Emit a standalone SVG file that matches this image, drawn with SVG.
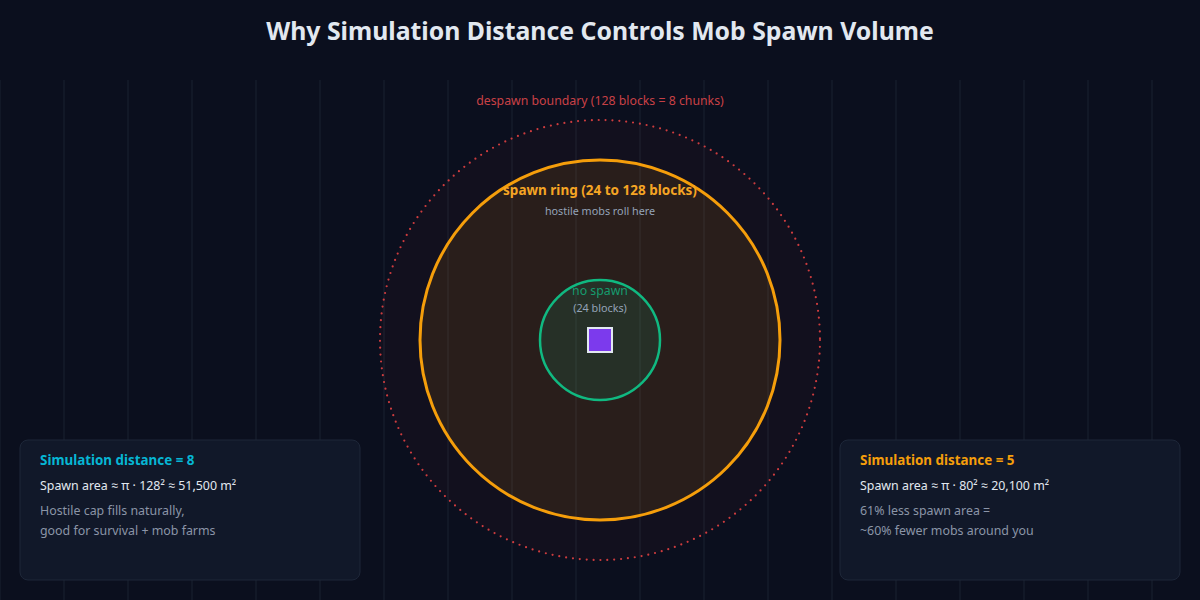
<svg xmlns="http://www.w3.org/2000/svg" width="1200" height="600" viewBox="0 0 1200 600">
<style>
text{font-family:"Noto Sans","Open Sans","Liberation Sans",sans-serif}
.grid line{stroke:#161c2b;stroke-width:1.5}
.title{font-size:24.8px;font-weight:700;fill:#e2e8f0}
.ph{font-size:13.4px;font-weight:700}
.pm{font-size:12.4px;fill:#e2e8f0}
.ps{font-size:12.4px;fill:#8b95a7}
.panel{fill:#111829;stroke:#1e2739;stroke-width:1}
</style>
<rect width="1200" height="600" fill="#0b0f1e"/>
<g class="grid">
<line x1="0" y1="80" x2="0" y2="600"/><line x1="64" y1="80" x2="64" y2="600"/><line x1="128" y1="80" x2="128" y2="600"/><line x1="192" y1="80" x2="192" y2="600"/><line x1="256" y1="80" x2="256" y2="600"/><line x1="320" y1="80" x2="320" y2="600"/><line x1="384" y1="80" x2="384" y2="600"/><line x1="448" y1="80" x2="448" y2="600"/><line x1="512" y1="80" x2="512" y2="600"/><line x1="576" y1="80" x2="576" y2="600"/><line x1="640" y1="80" x2="640" y2="600"/><line x1="704" y1="80" x2="704" y2="600"/><line x1="768" y1="80" x2="768" y2="600"/><line x1="832" y1="80" x2="832" y2="600"/><line x1="896" y1="80" x2="896" y2="600"/><line x1="960" y1="80" x2="960" y2="600"/><line x1="1024" y1="80" x2="1024" y2="600"/><line x1="1088" y1="80" x2="1088" y2="600"/><line x1="1152" y1="80" x2="1152" y2="600"/>
</g>
<text class="title" x="600" y="40" text-anchor="middle">Why Simulation Distance Controls Mob Spawn Volume</text>
<g id="despawn">
<circle cx="600" cy="340" r="220" fill="#ef4444" fill-opacity="0.035" stroke="#ef4444" stroke-width="2.2" stroke-dasharray="0 6.9" stroke-linecap="round" stroke-opacity="0.85"/>
<text x="600" y="105" text-anchor="middle" font-size="12.3" fill="#e0484c" fill-opacity="0.9">despawn boundary (128 blocks = 8 chunks)</text>
</g>
<g id="spawn-ring">
<circle cx="600" cy="340" r="180" fill="#f59e0b" fill-opacity="0.1" stroke="#f59e0b" stroke-width="3"/>
<text x="600" y="195" text-anchor="middle" font-size="13.5" font-weight="700" fill="#f5a524">spawn ring (24 to 128 blocks)</text>
<text x="600" y="215" text-anchor="middle" font-size="10.8" fill="#94a3b8">hostile mobs roll here</text>
</g>
<g id="no-spawn">
<circle cx="600" cy="340" r="60" fill="#10b981" fill-opacity="0.12" stroke="#10b981" stroke-width="2.5"/>
<text x="600" y="295" text-anchor="middle" font-size="12.3" fill="#10b981" fill-opacity="0.8">no spawn</text>
<text x="600" y="312" text-anchor="middle" font-size="10.8" fill="#94a3b8">(24 blocks)</text>
</g>
<g id="player">
<rect x="588" y="328" width="24" height="24" fill="#7c3aed" stroke="#e2e8f0" stroke-width="2"/>
</g>
<g id="panel-left">
<rect class="panel" x="20" y="440" width="340" height="140" rx="8"/>
<text class="ph" x="40" y="465" fill="#06b6d4">Simulation distance = 8</text>
<text class="pm" x="40" y="490">Spawn area ≈ π · 128² ≈ 51,500 m²</text>
<text class="ps" x="40" y="515">Hostile cap fills naturally,</text>
<text class="ps" x="40" y="535">good for survival + mob farms</text>
</g>
<g id="panel-right">
<rect class="panel" x="840" y="440" width="340" height="140" rx="8"/>
<text class="ph" x="860" y="465" fill="#f59e0b">Simulation distance = 5</text>
<text class="pm" x="860" y="490">Spawn area ≈ π · 80² ≈ 20,100 m²</text>
<text class="ps" x="860" y="515">61% less spawn area =</text>
<text class="ps" x="860" y="535">~60% fewer mobs around you</text>
</g>
<g id="connectors"></g>
</svg>
